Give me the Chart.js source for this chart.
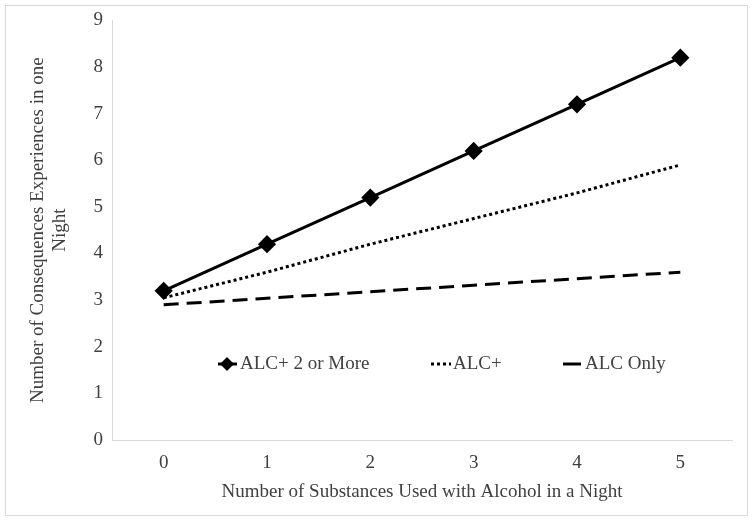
<!DOCTYPE html>
<html><head><meta charset="utf-8">
<script src="https://cdn.jsdelivr.net/npm/chart.js@4/dist/chart.umd.min.js"></script>
<style>html,body{margin:0;padding:0;background:#fff}#wrap{width:754px;height:522px;position:relative}</style>
</head><body><div id="wrap"><canvas id="c" width="754" height="522"></canvas></div>
<script>
const categories = ['0','1','2','3','4','5'];
const seriesNames = ['ALC+ 2 or More','ALC+','ALC Only'];
const alc2More = [3.2, 4.2, 5.2, 6.2, 7.2, 8.2];
const alcPlus = [3.05, 3.6, 4.2, 4.75, 5.3, 5.9];
const alcOnly = [2.9, 3.04, 3.18, 3.32, 3.46, 3.6];
const yTicks = [0,1,2,3,4,5,6,7,8,9];
const xTitle = 'Number of Substances Used with Alcohol in a Night';
const yTitle = ['Number of Consequences Experiences in one','Night'];

const FONT = '"Liberation Serif","Times New Roman",serif';
const TXT = '#404040';
const FS = 19;

const frame = {
  id:'frame',
  beforeDraw(ch){const c=ch.ctx;c.save();c.fillStyle='#fff';c.fillRect(0,0,ch.width,ch.height);c.strokeStyle='#d9d9d9';c.lineWidth=1;c.strokeRect(5.5,5.5,742,510);c.restore();}
};
const legendIn = {
  id:'legendIn',
  afterDraw(ch){
    const c=ch.ctx; const y=364; c.save();
    c.font=FS+'px '+FONT; c.fillStyle=TXT; c.textBaseline='middle';
    c.strokeStyle='#000'; c.lineWidth=3;
    c.beginPath(); c.moveTo(218,y); c.lineTo(237,y); c.stroke();
    c.fillStyle='#000'; c.beginPath(); c.moveTo(227,y-7); c.lineTo(234,y); c.lineTo(227,y+7); c.lineTo(220,y); c.closePath(); c.fill();
    c.fillStyle=TXT; c.fillText(seriesNames[0],240,y);
    c.setLineDash([3,3]); c.beginPath(); c.moveTo(431,y); c.lineTo(451,y); c.stroke();
    c.fillText(seriesNames[1],453,y);
    c.setLineDash([]); c.beginPath(); c.moveTo(563,y); c.lineTo(581,y); c.stroke();
    c.fillText(seriesNames[2],585,y);
    c.restore();
  }
};

new Chart(document.getElementById('c'),{
  type:'line',
  data:{labels:categories,datasets:[
    {label:seriesNames[0],data:alc2More,borderColor:'#000',backgroundColor:'#000',borderWidth:3,pointStyle:'rectRot',pointRadius:7,pointHoverRadius:7,tension:0},
    {label:seriesNames[1],data:alcPlus,borderColor:'#000',borderWidth:3,borderDash:[3,3],pointRadius:0,tension:0},
    {label:seriesNames[2],data:alcOnly,borderColor:'#000',borderWidth:3,borderDash:[15,8],pointRadius:0,tension:0}
  ]},
  options:{
    responsive:false,animation:false,
    layout:{padding:{top:20,right:22,left:0,bottom:0}},
    plugins:{legend:{display:false},tooltip:{enabled:false}},
    scales:{
      x:{offset:true,grid:{display:false,drawTicks:false},border:{display:true,color:'#d9d9d9',width:1},
        ticks:{font:{family:FONT,size:FS},color:TXT,padding:12},
        title:{display:true,text:xTitle,font:{family:FONT,size:FS},color:TXT,padding:{top:0,bottom:19}},
        afterFit(s){s.height=82;}},
      y:{min:0,max:9,grid:{display:false,drawTicks:false},border:{display:true,color:'#d9d9d9',width:1},
        afterBuildTicks(s){s.ticks=yTicks.map(v=>({value:v}));},
        ticks:{font:{family:FONT,size:FS},color:TXT,padding:9},
        title:{display:true,text:yTitle,font:{family:FONT,size:FS,lineHeight:1.16},color:TXT,padding:{top:27,bottom:0}},
        afterFit(s){s.width=112;}}
    }
  },
  plugins:[frame,legendIn]
});
</script></body></html>
